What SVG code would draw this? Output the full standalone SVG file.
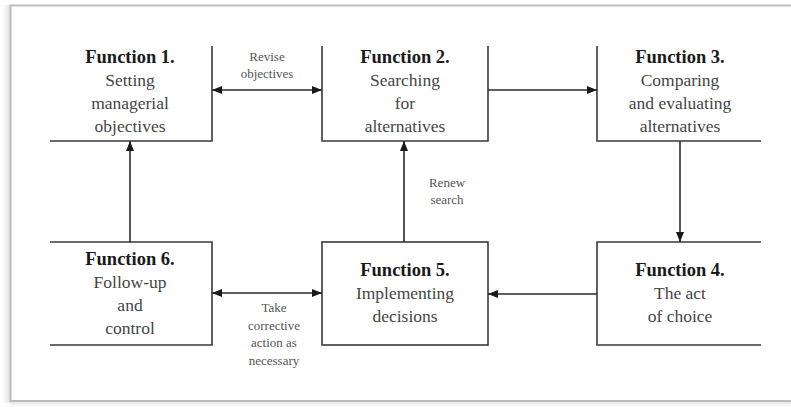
<svg xmlns="http://www.w3.org/2000/svg" width="791" height="407" viewBox="0 0 791 407">
<style>
.box{fill:none;stroke:#3a3a3a;stroke-width:1.6}
.con{fill:none;stroke:#2a2a2a;stroke-width:1.6}
.t{font-family:"Liberation Serif","Times New Roman",serif;text-anchor:middle}
.h{font-size:18.5px;font-weight:bold;fill:#1a1a1a}
.b{font-size:17.5px;fill:#454545}
.s{font-size:13px;fill:#555}
</style>
<defs>
<marker id="ah" viewBox="0 0 10 8" refX="10" refY="4" markerWidth="10" markerHeight="8" markerUnits="userSpaceOnUse" orient="auto-start-reverse">
<path d="M0,0 L10,4 L0,8 z" fill="#1a1a1a"/>
</marker>
<linearGradient id="sb" x1="0" y1="0" x2="0" y2="1">
<stop offset="0" stop-color="#e2e2e2"/>
<stop offset="1" stop-color="#ffffff"/>
</linearGradient>
<linearGradient id="sl" x1="0" y1="0" x2="1" y2="0">
<stop offset="0" stop-color="#ffffff"/>
<stop offset="1" stop-color="#e0e0e0"/>
</linearGradient>
</defs>
<rect width="791" height="407" fill="#fff"/>
<g id="frame">
<rect x="2" y="5" width="9" height="398" fill="url(#sl)"/>
<rect x="10" y="401" width="781" height="6" fill="url(#sb)"/>
<rect x="10.5" y="5.5" width="790" height="395.5" fill="none" stroke="#bdbdbd" stroke-width="2"/>
</g>
<g id="node1">
<path class="box" d="M50,141 H212 V46"/>
<text class="t h" x="130" y="63">Function 1.</text>
<text class="t b" x="130" y="86">Setting</text>
<text class="t b" x="130" y="109">managerial</text>
<text class="t b" x="130" y="132">objectives</text>
</g>
<g id="node2">
<path class="box" d="M322,46 V141 H488 V46"/>
<text class="t h" x="405" y="63">Function 2.</text>
<text class="t b" x="405" y="86">Searching</text>
<text class="t b" x="405" y="109">for</text>
<text class="t b" x="405" y="132">alternatives</text>
</g>
<g id="node3">
<path class="box" d="M597,46 V141 H761"/>
<text class="t h" x="680" y="63">Function 3.</text>
<text class="t b" x="680" y="86">Comparing</text>
<text class="t b" x="680" y="109">and evaluating</text>
<text class="t b" x="680" y="132">alternatives</text>
</g>
<g id="node4">
<path class="box" d="M761,242 H597 V345 H761"/>
<text class="t h" x="680" y="276">Function 4.</text>
<text class="t b" x="680" y="299">The act</text>
<text class="t b" x="680" y="322">of choice</text>
</g>
<g id="node5">
<rect class="box" x="322" y="242" width="166" height="103"/>
<text class="t h" x="405" y="276">Function 5.</text>
<text class="t b" x="405" y="299">Implementing</text>
<text class="t b" x="405" y="322">decisions</text>
</g>
<g id="node6">
<path class="box" d="M50,242 H212 V345 H50"/>
<text class="t h" x="130" y="265">Function 6.</text>
<text class="t b" x="130" y="288">Follow-up</text>
<text class="t b" x="130" y="311">and</text>
<text class="t b" x="130" y="334">control</text>
</g>
<g id="connectors">
<line class="con" x1="212" y1="90" x2="322" y2="90" marker-start="url(#ah)" marker-end="url(#ah)"/>
<line class="con" x1="488" y1="90" x2="597" y2="90" marker-end="url(#ah)"/>
<line class="con" x1="680" y1="141" x2="680" y2="242" marker-end="url(#ah)"/>
<line class="con" x1="597" y1="294" x2="488" y2="294" marker-end="url(#ah)"/>
<line class="con" x1="404" y1="242" x2="404" y2="141" marker-end="url(#ah)"/>
<line class="con" x1="130" y1="242" x2="130" y2="141" marker-end="url(#ah)"/>
<line class="con" x1="212" y1="293" x2="322" y2="293" marker-start="url(#ah)" marker-end="url(#ah)"/>
<text class="t s" x="267" y="61">Revise</text>
<text class="t s" x="267" y="78">objectives</text>
<text class="t s" x="447" y="187">Renew</text>
<text class="t s" x="447" y="204">search</text>
<text class="t s" x="274" y="312">Take</text>
<text class="t s" x="274" y="330">corrective</text>
<text class="t s" x="274" y="347">action as</text>
<text class="t s" x="274" y="365">necessary</text>
</g>
</svg>
